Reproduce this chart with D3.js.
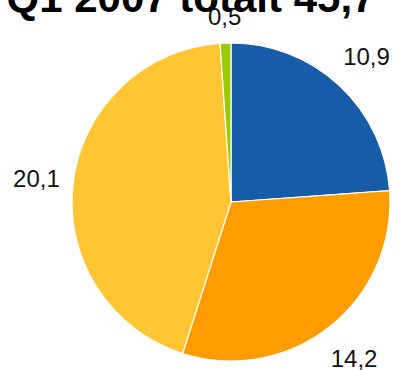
<!DOCTYPE html>
<html><head><meta charset="utf-8">
<script src="https://cdn.jsdelivr.net/npm/d3@7"></script>
<style>html,body{margin:0;padding:0;background:#fff;overflow:hidden}</style>
</head><body>
<svg id="c" width="402" height="370"></svg>
<script>
const title = "Q1 2007 totalt 45,7";
const categories = ["A", "B", "C", "D"];
const values = [10.9, 14.2, 20.1, 0.5];
const labels = ["10,9", "14,2", "20,1", "0,5"];
const colors = ["#165ca8", "#ff9c00", "#ffc533", "#99cc00"];

const svg = d3.select("#c");
const cx = 231, cy = 202, r = 159;

svg.append("text").attr("x", 191).attr("y", 12).attr("text-anchor", "middle")
  .attr("font-family", "Liberation Sans, Arial, sans-serif").attr("font-weight", "bold")
  .attr("font-size", 42).attr("fill", "#000").text(title);

const pie = d3.pie().sort(null).value(d => d)(values);
const arc = d3.arc().innerRadius(0).outerRadius(r);
const g = svg.append("g").attr("transform", `translate(${cx},${cy})`);
g.selectAll("path").data(pie).join("path")
  .attr("d", arc).attr("fill", (d, i) => colors[i])
  .attr("stroke", "#fff").attr("stroke-width", 1.2);

const labelR = [r + 40, r + 40, r + 37, r + 27];
g.selectAll("text.lbl").data(pie).join("text").attr("class", "lbl")
  .attr("x", (d, i) => d3.arc().innerRadius(labelR[i]).outerRadius(labelR[i]).centroid(d)[0])
  .attr("y", (d, i) => d3.arc().innerRadius(labelR[i]).outerRadius(labelR[i]).centroid(d)[1])
  .attr("dy", "0.35em")
  .attr("text-anchor", "middle")
  .attr("font-family", "Liberation Sans, Arial, sans-serif")
  .attr("font-size", 24).attr("fill", "#111")
  .text((d, i) => labels[i]);
</script>
</body></html>
